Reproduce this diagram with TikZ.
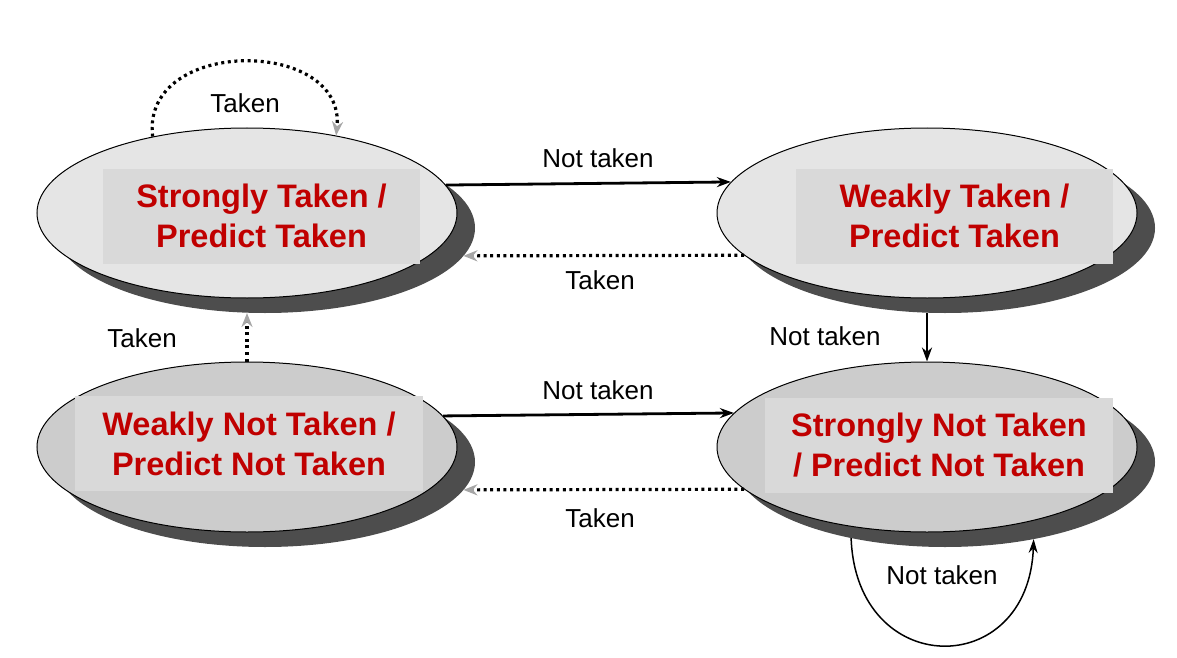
\documentclass[tikz,border=0pt]{standalone}
\usepackage{fontspec}
\setmainfont{Liberation Sans}
\usetikzlibrary{arrows.meta,shapes.geometric}
\definecolor{statered}{HTML}{C00000}
\definecolor{lightfill}{HTML}{E5E5E5}
\definecolor{darkfill}{HTML}{CCCCCC}
\definecolor{shadowgray}{HTML}{4D4D4D}
\definecolor{boxgray}{HTML}{D9D9D9}
\definecolor{tipgray}{HTML}{A6A6A6}
\begin{document}
\begin{tikzpicture}[x=1pt,y=-1pt,
  stateshape/.style={ellipse, minimum width=420pt, minimum height=170pt, inner sep=0pt, draw=black, line width=1pt},
  shadowshape/.style={ellipse, minimum width=420pt, minimum height=170pt, inner sep=0pt, outer sep=0pt, fill=shadowgray},
  labelbox/.style={fill=boxgray, text=statered, font=\fontsize{32.5}{40}\selectfont\bfseries, align=center, inner sep=0pt, minimum height=95pt},
  edgelabel/.style={font=\fontsize{26}{30}\selectfont, inner sep=0pt},
  solidarrow/.style={line width=2.8pt, -{Stealth[length=14pt,width=10pt]}},
  thinarrow/.style={line width=1.5pt, -{Stealth[length=14pt,width=9pt]}},
  dottedarrow/.style={line width=3.2pt, dash pattern=on 3pt off 3.6pt, -{Stealth[length=14pt,width=11pt,color=tipgray]}},
]
\useasboundingbox (0,0) rectangle (1177,658);
% shadows
\node[shadowshape] (stS) at (265,228) {};
\node[shadowshape] (wtS) at (945,228) {};
\node[shadowshape] (wntS) at (265,462) {};
\node[shadowshape] (sntS) at (945,462) {};
% states
\node[stateshape, fill=lightfill] (st) at (247,213) {};
\node[stateshape, fill=lightfill] (wt) at (927,213) {};
\node[stateshape, fill=darkfill] (wnt) at (247,447) {};
\node[stateshape, fill=darkfill] (snt) at (927,447) {};
% text boxes
\node[labelbox, minimum width=317pt] (stT) at (261.5,216) {Strongly Taken /\\Predict Taken};
\node[labelbox, minimum width=317pt] (wtT) at (954.5,216) {Weakly Taken /\\Predict Taken};
\node[labelbox, minimum width=348pt] (wntT) at (249,443.5) {Weakly Not Taken /\\Predict Not Taken};
\node[labelbox, minimum width=348pt] (sntT) at (939,445.5) {Strongly Not Taken\\/ Predict Not Taken};
% connectors
\draw[solidarrow] (st.8.68) -- (wt.171.32);
\draw[dottedarrow] (wt.193.77) -- (stS.-8.3);
\draw[solidarrow] (wnt.9.34) -- (snt.170.66);
\draw[dottedarrow] (snt.193.77) -- (wntS.-8.3);
\draw[dottedarrow] (wnt.north) -- (stS.south -| wnt.north);
\draw[solidarrow] (wtS.south -| wt.south) -- (snt.north);
\draw[dottedarrow] (st.141.9) .. controls +(-12,-100) and +(10,-98) .. (st.41.6);
\draw[thinarrow] (sntS.219) .. controls +(5,142) and +(-5,142) .. (sntS.-41);
% edge labels
\node[edgelabel] (l1) at (245,103) {Taken};
\node[edgelabel] (l2) at (598,158) {Not taken};
\node[edgelabel] (l3) at (600,280) {Taken};
\node[edgelabel] (l4) at (142,338) {Taken};
\node[edgelabel] (l5) at (825,336) {Not taken};
\node[edgelabel] (l6) at (598,390) {Not taken};
\node[edgelabel] (l7) at (600,518) {Taken};
\node[edgelabel] (l8) at (942,575) {Not taken};
\end{tikzpicture}
\end{document}
